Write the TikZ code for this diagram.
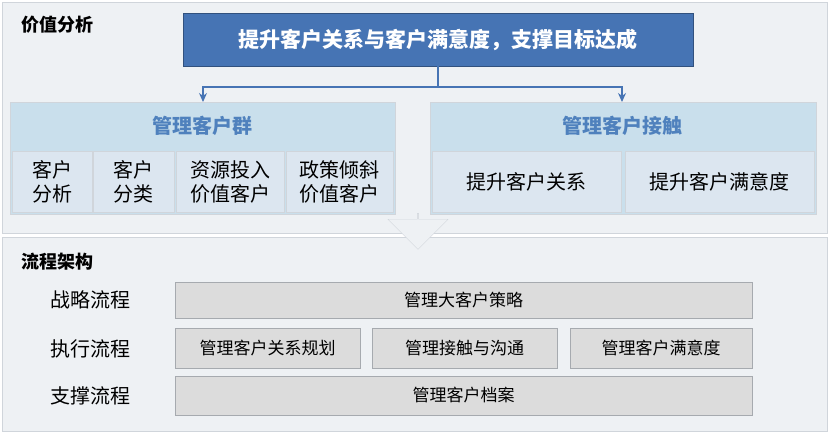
\documentclass[tikz,border=0pt]{standalone}
\usepackage{fontspec}
\setmainfont{Noto Sans CJK SC}
\usetikzlibrary{shapes.arrows,arrows.meta}
\definecolor{panel}{HTML}{EEF1F4}
\definecolor{panelb}{HTML}{D0D5DB}
\definecolor{topb}{HTML}{4674B4}
\definecolor{hdr}{HTML}{C9DFEC}
\definecolor{hdrt}{HTML}{4F81BD}
\definecolor{cell}{HTML}{DCE6F0}
\definecolor{bar}{HTML}{DCDCDC}
\begin{document}
\begin{tikzpicture}[x=1pt,y=-1pt,
  lbl/.style={font=\fontsize{18}{20}\selectfont\bfseries},
  hdrtext/.style={font=\fontsize{20}{22}\selectfont\bfseries,text=hdrt},
  cellt/.style={font=\fontsize{20}{24}\selectfont,align=center},
  bart/.style={font=\fontsize{17}{20}\selectfont}]
\useasboundingbox (0,0) rectangle (829,433);
\fill[panel,draw=panelb] (2,2) rectangle (827,233);
\fill[panel,draw=panelb] (2,237) rectangle (827,431);
\node[lbl,anchor=west] (t1) at (18,25) {价值分析};
\node[lbl,anchor=west] (t2) at (18,262) {流程架构};
% top box
\filldraw[fill=topb,draw=topb!70!black] (183,13) rectangle (693,66);
\node[font=\fontsize{21}{24}\selectfont\bfseries,text=white] (top) at (438,40) {提升客户关系与客户满意度，支撑目标达成};
% groups
\filldraw[fill=hdr,draw=panelb] (10,102) rectangle (395,214);
\filldraw[fill=hdr,draw=panelb] (430,102) rectangle (816,214);
\node[hdrtext] (g1) at (202,126) {管理客户群};
\node[hdrtext] (g2) at (622,126) {管理客户接触};
\foreach \a/\b/\t/\n in {12/92/{客户\\分析}/c1,93/174/{客户\\分类}/c2,176/284/{资源投入\\价值客户}/c3,286/393/{政策倾斜\\价值客户}/c4,432/621/{提升客户关系}/c5,625/814/{提升客户满意度}/c6}{
  \filldraw[fill=cell,draw=panelb] (\a,151) rectangle (\b,212);
  \node[cellt] (\n) at ({(\a+\b)/2},182) {\t};
}
% connector
\coordinate (j) at (438,87);
\draw[topb,line width=1.2pt] (top.south |- 0,66) -- (j);
\draw[topb,line width=1.2pt,-{Stealth[length=9pt,width=8pt]}] (j) -| (203,102);
\draw[topb,line width=1.2pt,-{Stealth[length=9pt,width=8pt]}] (j) -| (622,102);
% block arrow
\node[single arrow,shape border rotate=270,draw=panelb,fill=panel,minimum width=60pt,single arrow head extend=10pt,minimum height=36pt,inner sep=0pt] (ba) at (418,231) {};
% lower
\foreach \y/\t/\n in {300/战略流程/l1,349/执行流程/l2,396/支撑流程/l3}
  \node[font=\fontsize{20}{22}\selectfont] (\n) at (90,\y) {\t};
\foreach \a/\b/\c/\d/\t/\n in {175/752/282/318/管理大客户策略/b1,175/360/328/368/管理客户关系规划/b2,372/557/328/368/管理接触与沟通/b3,570/752/328/368/管理客户满意度/b4,175/752/376/415/管理客户档案/b5}{
  \filldraw[fill=bar,draw=panelb!80!black] (\a,\c) rectangle (\b,\d);
  \node[bart] (\n) at ({(\a+\b)/2},{(\c+\d)/2}) {\t};
}
\end{tikzpicture}
\end{document}
